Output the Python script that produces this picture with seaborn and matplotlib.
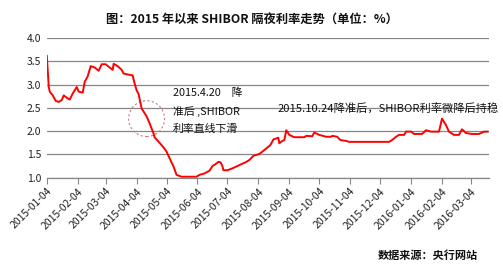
import matplotlib
matplotlib.use("Agg")
import matplotlib.pyplot as plt
import matplotlib.dates as mdates
from matplotlib.patches import Ellipse
import seaborn as sns
import pandas as pd

dates = [
    "2015-01-04", "2015-01-06", "2015-01-07", "2015-01-10", "2015-01-13", "2015-01-16",
    "2015-01-19", "2015-01-21", "2015-01-24", "2015-01-27", "2015-01-30", "2015-02-03",
    "2015-02-05", "2015-02-09", "2015-02-11", "2015-02-14", "2015-02-17", "2015-02-21",
    "2015-02-25", "2015-02-28", "2015-03-04", "2015-03-08", "2015-03-11", "2015-03-12",
    "2015-03-16", "2015-03-20", "2015-03-22", "2015-03-26", "2015-03-31", "2015-04-02",
    "2015-04-04", "2015-04-06", "2015-04-09", "2015-04-14", "2015-04-17", "2015-04-21",
    "2015-04-22", "2015-04-27", "2015-05-01", "2015-05-04", "2015-05-07", "2015-05-11",
    "2015-05-14", "2015-05-19", "2015-05-24", "2015-06-03", "2015-06-06", "2015-06-11",
    "2015-06-16", "2015-06-19", "2015-06-22", "2015-06-25", "2015-06-27", "2015-06-29",
    "2015-06-30", "2015-07-04", "2015-07-09", "2015-07-16", "2015-07-23", "2015-07-26",
    "2015-07-30", "2015-08-05", "2015-08-08", "2015-08-12", "2015-08-16", "2015-08-19",
    "2015-08-24", "2015-08-25", "2015-08-28", "2015-08-30", "2015-09-01", "2015-09-04",
    "2015-09-09", "2015-09-19", "2015-09-21", "2015-09-27", "2015-09-29", "2015-10-04",
    "2015-10-11", "2015-10-16", "2015-10-17", "2015-10-22", "2015-10-25", "2015-10-31",
    "2015-11-03", "2015-12-13", "2015-12-16", "2015-12-20", "2015-12-23", "2015-12-28",
    "2015-12-30", "2016-01-04", "2016-01-07", "2016-01-15", "2016-01-19", "2016-01-24",
    "2016-02-01", "2016-02-04", "2016-02-08", "2016-02-11", "2016-02-16", "2016-02-21",
    "2016-02-24", "2016-02-28", "2016-03-05", "2016-03-12", "2016-03-17", "2016-03-21",
]
shibor = [
    3.63, 2.95, 2.85, 2.77, 2.65, 2.63,
    2.67, 2.77, 2.72, 2.68, 2.81, 2.95,
    2.85, 2.83, 3.06, 3.18, 3.40, 3.37,
    3.30, 3.44, 3.44, 3.37, 3.32, 3.45,
    3.40, 3.32, 3.24, 3.22, 3.20, 3.03,
    2.88, 2.80, 2.49, 2.32, 2.17, 1.95,
    1.87, 1.75, 1.65, 1.56, 1.42, 1.24,
    1.06, 1.02, 1.02, 1.02, 1.06, 1.09,
    1.15, 1.25, 1.29, 1.34, 1.33, 1.25,
    1.16, 1.16, 1.20, 1.27, 1.34, 1.38,
    1.47, 1.51, 1.56, 1.63, 1.70, 1.82,
    1.86, 1.74, 1.79, 1.81, 2.02, 1.92,
    1.87, 1.87, 1.90, 1.89, 1.97, 1.92,
    1.88, 1.88, 1.90, 1.88, 1.81, 1.79,
    1.77, 1.77, 1.81, 1.88, 1.92, 1.92,
    1.99, 1.99, 1.94, 1.94, 2.02, 1.99,
    1.99, 2.27, 2.13, 1.99, 1.92, 1.92,
    2.04, 1.96, 1.94, 1.94, 1.99, 1.99,
]
tick_labels = [
    "2015-01-04", "2015-02-04", "2015-03-04", "2015-04-04", "2015-05-04",
    "2015-06-04", "2015-07-04", "2015-08-04", "2015-09-04", "2015-10-04",
    "2015-11-04", "2015-12-04", "2016-01-04", "2016-02-04", "2016-03-04",
]
y_ticks = [1.0, 1.5, 2.0, 2.5, 3.0, 3.5, 4.0]

title = "图：2015 年以来 SHIBOR 隔夜利率走势（单位：%）"
note1 = "2015.4.20　降\n准后 ,SHIBOR\n利率直线下滑"
note2 = "2015.10.24降准后，SHIBOR利率微降后持稳"
source = "数据来源：央行网站"

df = pd.DataFrame({"date": pd.to_datetime(dates), "rate": shibor})

sns.set_style("white")
plt.rcParams["font.family"] = ["Noto Sans CJK SC", "DejaVu Sans"]

fig = plt.figure(figsize=(5.03, 2.75), dpi=100)
ax = fig.add_axes([0.093, 0.354, 0.879, 0.507])

sns.lineplot(data=df, x="date", y="rate", ax=ax, color="#ff0000", linewidth=1.4)

ax.set_ylim(1.0, 4.0)
ax.set_xlim(pd.Timestamp("2015-01-04"), pd.Timestamp("2016-03-22"))
ax.set_yticks(y_ticks)
ax.set_yticklabels([f"{v:.1f}" for v in y_ticks], fontsize=7.5, color="#222222")
tick_dates = pd.to_datetime(tick_labels)
ax.set_xticks(tick_dates)
ax.set_xticklabels(tick_labels, rotation=45, ha="right", rotation_mode="anchor",
                   fontsize=7.5, color="#222222")
ax.tick_params(axis="x", which="both", length=4, width=0.8, color="#868686",
               bottom=True, pad=2)
ax.tick_params(axis="y", length=0, pad=4)
ax.set_xlabel("")
ax.set_ylabel("")

ax.grid(axis="y", color="#868686", linewidth=0.9)
ax.set_axisbelow(True)
for s in ["top", "right", "left"]:
    ax.spines[s].set_visible(False)
ax.spines["bottom"].set_color("#868686")
ax.spines["bottom"].set_linewidth(0.9)

# dashed circle annotation
center = mdates.date2num(pd.Timestamp("2015-04-14"))
ax.add_patch(Ellipse((center, 2.27), width=36, height=0.77, fill=False,
                     edgecolor="#c08080", linestyle=(0, (2, 2)), linewidth=0.8))

fig.text(173 / 503, 1 - 111 / 275, note1, fontsize=7.8, color="#111111",
         ha="left", va="center", linespacing=1.85)
fig.text(278 / 503, 1 - 109.5 / 275, note2, fontsize=8.1, color="#111111",
         ha="left", va="center")
fig.text(252 / 503, 1 - 20 / 275, title, fontsize=8.8, fontweight="bold",
         ha="center", va="center", color="#111111")
fig.text(478 / 503, 1 - 255 / 275, source, fontsize=8, fontweight="bold",
         ha="right", va="center", color="#111111")

fig.savefig("out.png", dpi=100)
